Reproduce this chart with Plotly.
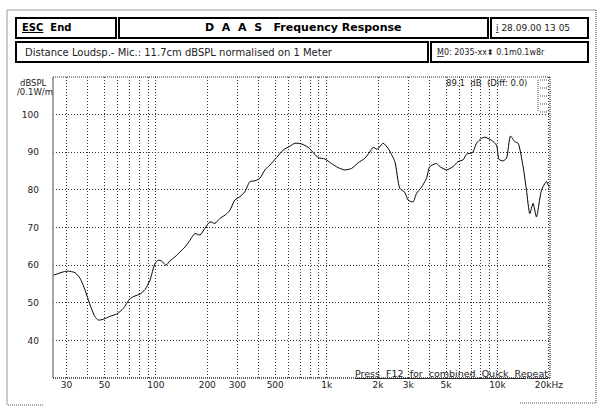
import math
import plotly.graph_objects as go

# ---- data ----
freq_hz = [25.1, 28.7, 30.7, 33.6, 36.0, 38.5, 41.2, 44.0, 46.0, 49.2, 53.9, 59.0, 64.5,
           70.6, 75.5, 80.7, 86.4, 92.4, 98.8, 103.3, 108.1, 114.6, 120.9, 129.4, 138.4,
           148.1, 158.4, 169.3, 181.2, 193.8, 207.3, 221.8, 237.2, 259.6, 271.4, 290.4,
           310.7, 332.2, 355.4, 380.1, 406.6, 434.8, 465.3, 509.2, 556.6, 609.2, 651.6,
           713.3, 779.6, 891.9, 976.1, 1068, 1168, 1278, 1399, 1529, 1673, 1789, 1872,
           1975, 2142, 2290, 2507, 2682, 2869, 2999, 3208, 3359, 3593, 3843, 4018, 4397,
           4597, 5031, 5500, 5883, 6292, 6588, 7141, 7539, 8063, 8427, 9224, 9867, 10219,
           10785, 11290, 11915, 12627, 13201, 14123, 14784, 15456, 16158, 16916, 18094,
           19356, 20045]
spl_db = [57.3, 58.2, 58.4, 58.0, 56.5, 53.4, 49.4, 46.3, 45.4, 45.6, 46.4, 47.0, 48.5,
          51.1, 51.8, 52.3, 53.5, 56.0, 60.4, 61.3, 61.1, 60.0, 61.1, 62.2, 63.5, 64.8,
          66.6, 68.4, 68.0, 69.8, 71.5, 71.1, 72.4, 73.6, 74.6, 77.3, 78.2, 79.5, 82.2,
          82.4, 83.1, 85.3, 86.6, 88.6, 90.6, 91.6, 92.4, 92.2, 91.3, 88.6, 88.2,
          87.0, 85.9, 85.3, 85.7, 87.2, 88.4, 90.1, 91.3, 90.8, 92.4, 91.0, 87.5, 80.4,
          79.3, 77.3, 76.8, 79.1, 80.7, 83.1, 86.2, 87.0, 86.2, 85.3, 86.2, 87.5, 88.0,
          89.5, 89.9, 92.4, 93.7, 94.0, 93.2, 91.9, 88.1, 87.7, 88.4, 94.3, 92.8, 92.4,
          86.2, 79.9, 73.7, 76.4, 72.8, 79.9, 82.2, 80.8]

grid_freqs = [30, 40, 50, 60, 70, 80, 90, 100, 200, 300, 400, 500, 600, 700, 800, 900,
              1000, 2000, 3000, 4000, 5000, 6000, 7000, 8000, 9000, 10000, 20000]
labelled = {30: "30", 50: "50", 100: "100", 200: "200", 300: "300", 500: "500",
            1000: "1k", 2000: "2k", 3000: "3k", 5000: "5k", 10000: "10k", 20000: "20kHz"}
y_ticks = [40, 50, 60, 70, 80, 90, 100]
x_min, x_max = 25, 20300
y_min, y_max = 30, 110

# ---- layout geometry (pixels) ----
W, H = 608, 411
L, R, T, B = 53, 550, 77, 378

def px(x):
    return (x - L) / (R - L)

def py(y):
    return (B - y) / (B - T)

fig = go.Figure()
fig.add_trace(go.Scatter(x=freq_hz, y=spl_db, mode="lines",
                         line=dict(color="#000000", width=1, shape="spline", smoothing=0.6),
                         hoverinfo="skip", showlegend=False))

FONT = "DejaVu Sans"
fig.update_layout(
    width=W, height=H,
    margin=dict(l=L, r=W - R, t=T, b=H - B, pad=0),
    paper_bgcolor="white", plot_bgcolor="white",
    showlegend=False,
    font=dict(family=FONT, size=9, color="#222222"),
    xaxis=dict(type="log", range=[math.log10(x_min), math.log10(x_max)],
               tickvals=grid_freqs,
               ticktext=[labelled.get(f, "") for f in grid_freqs],
               showgrid=True, gridcolor="#333333", gridwidth=1, griddash="1px,2px",
               zeroline=False, showline=False, ticks="", ticklabelstandoff=0,
               tickfont=dict(family=FONT, size=9, color="#222222")),
    yaxis=dict(range=[y_min, y_max], tickvals=y_ticks,
               showgrid=True, gridcolor="#333333", gridwidth=1, griddash="1px,2px",
               zeroline=False, showline=False, ticks="", ticklabelstandoff=13,
               tickfont=dict(family=FONT, size=9, color="#222222")),
)

shapes = []
def line(x0, y0, x1, y1, color="#333333", width=1, dash="solid"):
    shapes.append(dict(type="line", xref="paper", yref="paper",
                       x0=px(x0), y0=py(y0), x1=px(x1), y1=py(y1),
                       line=dict(color=color, width=width, dash=dash)))

def rect(x0, y0, x1, y1, width=2):
    shapes.append(dict(type="rect", xref="paper", yref="paper",
                       x0=px(x0), y0=py(y0), x1=px(x1), y1=py(y1),
                       line=dict(color="#000000", width=width), fillcolor="rgba(0,0,0,0)"))

# plot frame
line(L, T, L, B, color="#888888", width=1.5)
line(L, T, R, T, color="#333333", width=1.2, dash="1px,1px")
line(R, T, R, B, color="#333333", width=1.2, dash="1px,1px")
line(L, B, R, B, color="#333333", width=1.5, dash="1px,1px")

# outer frame
line(7, 10, 596, 10, color="#999999", width=1)
line(7, 10, 7, 405, color="#999999", width=1)
line(596, 10, 596, 403, color="#555555", width=1.2, dash="1px,1px")
line(8, 405, 43, 405, color="#555555", width=1.2, dash="1px,1px")
line(520, 403, 596, 403, color="#555555", width=1.2, dash="1px,1px")

# header boxes
rect(16, 18, 116, 38)
rect(119, 18, 488, 38)
rect(491, 18, 588, 38)
rect(16, 42, 428, 62)
rect(431, 42, 588, 62)

# small legend glyph top-right inside plot
line(538, 80, 538, 112, color="#555555", width=1, dash="1px,1px")
for yy in (80, 88, 96, 104, 112):
    line(540, yy, 548, yy, color="#555555", width=1, dash="1px,1px")
fig.update_layout(shapes=shapes)

ann = []
def text(x, y, s, size=9, anchor="left", color="#222222", family=FONT):
    ann.append(dict(xref="paper", yref="paper", x=px(x), y=py(y), text=s,
                    showarrow=False, xanchor=anchor, yanchor="middle",
                    font=dict(family=family, size=size, color=color)))

text(20, 28, "<b><u>ESC</u>  End</b>", size=10, color="#000000")
text(303, 28, "<b>D  A  A  S   Frequency Response</b>", size=11, anchor="center", color="#000000")
text(494, 28, "<u>i</u> 28.09.00 13 05", size=9)
text(23, 52, "Distance Loudsp.- Mic.: 11.7cm dBSPL normalised on 1 Meter", size=10)
text(435, 52, "<u>M</u>0: 2035-xx⬍ 0.1m0.1w8r", size=8)
text(33.5, 83, "dBSPL", size=8.5, anchor="center")
text(35, 92, "/0.1W/m", size=8.5, anchor="center")
text(529, 83, "89.1  dB  (Diff: 0.0)", size=8.5, anchor="right")
text(550, 373, "<u>Press  F12  for  combined  Quick  Repeat</u>", size=9.5, anchor="right")
fig.update_layout(annotations=ann)

fig.write_html("out.html",
               config={"displayModeBar": False, "staticPlot": True},
               post_script="document.body.style.margin='0';document.body.style.padding='0';")
